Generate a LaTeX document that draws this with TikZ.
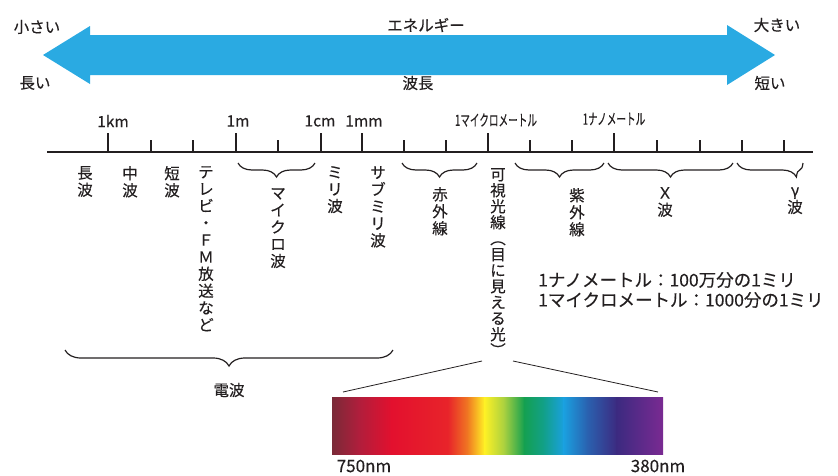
\documentclass[tikz,border=0pt]{standalone}
\usepackage{fontspec}
\setmainfont{Noto Sans CJK JP}[FakeBold=0.3]
\usetikzlibrary{decorations.pathreplacing}
\definecolor{arrowblue}{HTML}{2AAAE2}
\definecolor{ink}{HTML}{231F20}
\definecolor{sp0}{HTML}{7A2A38}
\definecolor{sp1}{HTML}{B01E3C}
\definecolor{sp2}{HTML}{E3102E}
\definecolor{sp3}{HTML}{E8242A}
\definecolor{sp4}{HTML}{F07A22}
\definecolor{sp5}{HTML}{FFF125}
\definecolor{sp6}{HTML}{A8D040}
\definecolor{sp7}{HTML}{14A050}
\definecolor{sp8}{HTML}{12A08A}
\definecolor{sp9}{HTML}{1AA0E0}
\definecolor{sp10}{HTML}{2A62B0}
\definecolor{sp11}{HTML}{3C2A80}
\definecolor{sp12}{HTML}{7A2A92}
\tikzset{
  lbl/.style={font=\fontsize{15.5}{17}\selectfont, text=ink, inner sep=0pt},
  vlbl/.style={lbl, align=center, anchor=north},
  majtick/.style={line width=1.6pt, draw=ink},
  mintick/.style={line width=1.1pt, draw=ink},
  brc/.style={draw=ink, line width=1.2pt, decorate, decoration={brace, mirror, amplitude=14pt}},
  condensed/.style={lbl, xscale=0.62},
}
\begin{document}
\begin{tikzpicture}[x=1pt,y=-1pt]
\useasboundingbox (0,0) rectangle (838,475);
% energy arrow
\fill[arrowblue] (43,55) -- (90,26) -- (90,35) -- (727,35) -- (727,25) -- (775,55)
  -- (727,85) -- (727,75) -- (90,75) -- (90,84) -- cycle;
\node[lbl] (small) at (37,27) {小さい};
\node[lbl] (long) at (35,83) {長い};
\node[lbl] (energy) at (426,25) {エネルギー};
\node[lbl] (wavelen) at (418,83) {波長};
\node[lbl] (big) at (777,25) {大きい};
\node[lbl] (short) at (770,83) {短い};
% axis
\draw[line width=1.8pt, draw=ink] (47,152) -- (813,152);
\foreach \x in {108,236,321,362,488,614}{\draw[majtick] (\x,133) -- (\x,152);}
\foreach \x in {151,193,278,404,446,530,572,657,700,742,784}{\draw[mintick] (\x,140) -- (\x,152);}
\node[lbl] (km) at (113,121) {1km};
\node[lbl] (m) at (238,121) {1m};
\node[lbl] (cm) at (320,121) {1cm};
\node[lbl] (mm) at (364,121) {1mm};
\node[condensed] (micro) at (496,120) {1マイクロメートル};
\node[condensed] (nano) at (614,119) {1ナノメートル};
% braces
\draw[brc] (238,163) -- (315,163);
\draw[brc] (402,163) -- (477,163);
\draw[brc] (515,163) -- (604,163);
\draw[brc] (608,163) -- (733,163);
\draw[brc, decoration={brace, mirror, amplitude=14pt, aspect=0.9}] (737,163) -- (803,163);
\draw[brc, decoration={brace, mirror, amplitude=16pt}] (65,350) -- (393,350);
\node[lbl] (denpa) at (229,390) {電波};
% vertical labels
\node[vlbl] (chopa) at (85,166) {長\\波};
\node[vlbl] (chupa) at (130,166) {中\\波};
\node[vlbl] (tanpa) at (172,166) {短\\波};
\node[vlbl] (tv) at (206,166) {テ\\レ\\ビ\\・\\Ｆ\\Ｍ\\放\\送\\な\\ど};
\node[vlbl] (microwave) at (278,188) {マ\\イ\\ク\\ロ\\波};
\node[vlbl] (milli) at (335,166) {ミ\\リ\\波};
\node[vlbl] (submilli) at (378,166) {サ\\ブ\\ミ\\リ\\波};
\node[vlbl] (ir) at (440,187) {赤\\外\\線};
\node[vlbl, font=\fontsize{15.5}{16}\selectfont] (vis) at (498,168) {可\\視\\光\\線\\︵\\目\\に\\見\\え\\る\\光\\︶};
\node[vlbl] (uv) at (577,188) {紫\\外\\線};
\node[vlbl] (xray) at (665,187) {Ｘ\\波};
\node[vlbl] (gamma) at (795,187) {γ\\波};
% notes
\node[lbl, anchor=west, font=\fontsize{17.5}{20}\selectfont, align=left] (notes) at (538,290)
  {1ナノメートル：100万分の1ミリ\\1マイクロメートル：1000分の1ミリ};
% spectrum
\coordinate (specl) at (482,361);
\coordinate (specr) at (513,361);
\coordinate (rl) at (343,392);
\coordinate (rr) at (658,392);
\draw[ink, line width=0.8pt] (specl) -- (rl);
\draw[ink, line width=0.8pt] (specr) -- (rr);
\def\sx#1{332+3.31*#1}
\shade[left color=sp0, right color=sp1] ({\sx{0}},397) rectangle ({\sx{8}+0.5},454);
\shade[left color=sp1, right color=sp2] ({\sx{8}},397) rectangle ({\sx{18}+0.5},454);
\shade[left color=sp2, right color=sp3] ({\sx{18}},397) rectangle ({\sx{35}+0.5},454);
\shade[left color=sp3, right color=sp4] ({\sx{35}},397) rectangle ({\sx{41}+0.5},454);
\shade[left color=sp4, right color=sp5] ({\sx{41}},397) rectangle ({\sx{46}+0.5},454);
\shade[left color=sp5, right color=sp6] ({\sx{46}},397) rectangle ({\sx{52}+0.5},454);
\shade[left color=sp6, right color=sp7] ({\sx{52}},397) rectangle ({\sx{58}+0.5},454);
\shade[left color=sp7, right color=sp8] ({\sx{58}},397) rectangle ({\sx{64}+0.5},454);
\shade[left color=sp8, right color=sp9] ({\sx{64}},397) rectangle ({\sx{70}+0.5},454);
\shade[left color=sp9, right color=sp10] ({\sx{70}},397) rectangle ({\sx{77}+0.5},454);
\shade[left color=sp10, right color=sp11] ({\sx{77}},397) rectangle ({\sx{86}+0.5},454);
\shade[left color=sp11, right color=sp12] ({\sx{86}},397) rectangle ({\sx{100}},454);
\node[lbl, font=\fontsize{17}{19}\selectfont] (n750) at (364,466) {750nm};
\node[lbl, font=\fontsize{17}{19}\selectfont] (n380) at (658,466) {380nm};
\end{tikzpicture}
\end{document}
